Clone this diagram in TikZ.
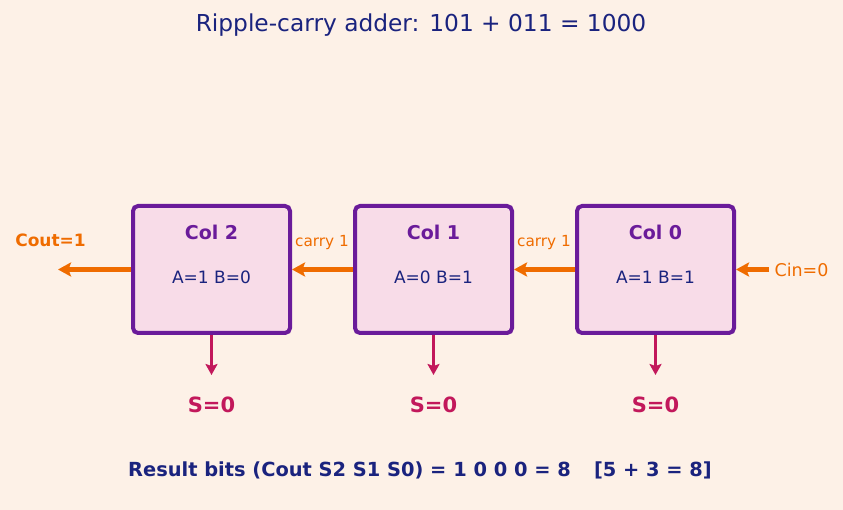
\documentclass[tikz,border=0pt]{standalone}
\usepackage{fontspec}
\setmainfont{DejaVu Sans}
\usepackage{xcolor}
\definecolor{adderBg}{HTML}{FDF1E7}
\definecolor{adderNavy}{HTML}{1A237E}
\definecolor{adderPurple}{HTML}{6A1B9A}
\definecolor{adderFill}{HTML}{F8DCE8}
\definecolor{carryOrange}{HTML}{EF6C00}
\definecolor{sumCrimson}{HTML}{C2185B}
\usetikzlibrary{arrows.meta,positioning,calc}
\tikzset{
    column/.style={
        draw=adderPurple,
        fill=adderFill,
        rectangle,
        rounded corners=5pt,
        line width=4pt,
        minimum width=157pt,
        minimum height=127pt
    },
    colname/.style={
        font=\fontsize{19}{23}\selectfont\bfseries,
        color=adderPurple
    },
    colbits/.style={
        font=\fontsize{17}{21}\selectfont,
        color=adderNavy
    },
    carryarrow/.style={
        -{Stealth[length=13pt,width=14pt,inset=2.5pt]},
        line width=4.2pt,
        color=carryOrange
    },
    sumarrow/.style={
        -{Stealth[length=11pt,width=12pt,inset=2pt]},
        line width=3.3pt,
        color=sumCrimson
    },
    carrylabel/.style={
        font=\fontsize{15.3}{18}\selectfont,
        color=carryOrange
    },
    sumlabel/.style={
        font=\fontsize{21}{25}\selectfont\bfseries,
        color=sumCrimson
    }
}

\begin{document}
\begin{tikzpicture}[x=1pt,y=-1pt]
    % Background
    \fill[adderBg] (0,0) rectangle (843,510);

    % Title
    \node[font=\fontsize{23.3}{28}\selectfont, color=adderNavy] (title) at (421,25)
        {Ripple-carry adder: 101 + 011 = 1000};

    % Columns
    \node[column] (col2) at (211.5,269.5) {};
    \node[column] (col1) at (433.5,269.5) {};
    \node[column] (col0) at (655.5,269.5) {};
    \node[colname] (name2) at (211.5,232) {Col 2};
    \node[colname] (name1) at (433.5,232) {Col 1};
    \node[colname] (name0) at (655.5,232) {Col 0};
    \node[colbits] (bits2) at (211.5,277) {A=1 B=0};
    \node[colbits] (bits1) at (433.5,277) {A=0 B=1};
    \node[colbits] (bits0) at (655.5,277) {A=1 B=1};

    % Carry chain
    \coordinate (cin) at (769,269.5);
    \coordinate (cout) at (58,269.5);
    \draw[carryarrow] (cin) -- (col0.east);
    \draw[carryarrow] (col0.west) -- (col1.east);
    \draw[carryarrow] (col1.west) -- (col2.east);
    \draw[carryarrow] (col2.west) -- (cout);
    \node[carrylabel, font=\fontsize{17.5}{21}\selectfont, anchor=west] (cinlabel) at (771,269.5) {Cin=0};
    \node[carrylabel] (carry0) at (544,243) {carry 1};
    \node[carrylabel] (carry1) at (322,243) {carry 1};
    \node[carrylabel, font=\fontsize{17}{21}\selectfont\bfseries] (coutlabel) at (50.5,240) {Cout=1};

    % Sum outputs
    \coordinate (s2) at (211.5,375);
    \coordinate (s1) at (433.5,375);
    \coordinate (s0) at (655.5,375);
    \draw[sumarrow] (col2.south) -- (s2);
    \draw[sumarrow] (col1.south) -- (s1);
    \draw[sumarrow] (col0.south) -- (s0);
    \node[sumlabel] (sum2) at (211.5,405) {S=0};
    \node[sumlabel] (sum1) at (433.5,405) {S=0};
    \node[sumlabel] (sum0) at (655.5,405) {S=0};

    % Result
    \node[font=\fontsize{19.4}{23}\selectfont\bfseries, color=adderNavy] (result) at (420,470)
        {Result bits (Cout S2 S1 S0) = 1 0 0 0 = 8\hspace{1.2em}[5 + 3 = 8]};
\end{tikzpicture}
\end{document}
